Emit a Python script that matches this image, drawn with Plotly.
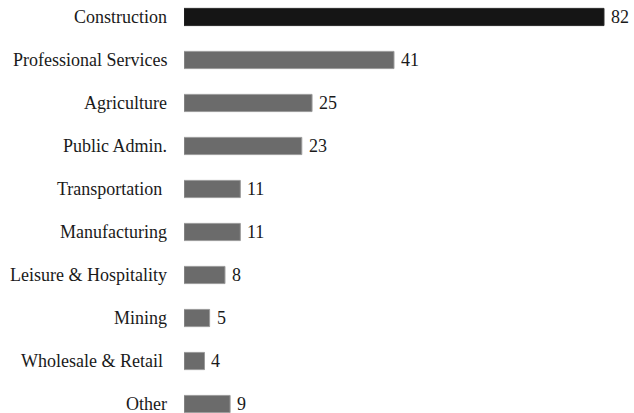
import plotly.graph_objects as go

# Counts by industry sector
sectors = ["Construction", "Professional Services", "Agriculture", "Public Admin.",
           "Transportation ", "Manufacturing", "Leisure & Hospitality", "Mining",
           "Wholesale & Retail ", "Other"]
counts = [82, 41, 25, 23, 11, 11, 8, 5, 4, 9]

SERIF = "Times New Roman, Liberation Serif, Tinos, serif"
TEXT_COLOR = "#1a1a1a"

bar_colors = ["#151515"] + ["#6b6b6b"] * (len(sectors) - 1)
edge_colors = ["#2a2a2a"] + ["#9a9a9a"] * (len(sectors) - 1)
positions = list(range(len(sectors)))

fig = go.Figure(
    go.Bar(
        x=counts,
        y=positions,
        orientation="h",
        width=0.4,
        marker=dict(color=bar_colors, line=dict(color=edge_colors, width=1)),
        hoverinfo="x+text",
        hovertext=sectors,
    )
)

# Sector names to the left of the bars
for pos, name in zip(positions, sectors):
    fig.add_annotation(
        x=0, y=pos, xref="x", yref="y",
        text=name.replace(" ", "&nbsp;") if name.endswith(" ") else name,
        showarrow=False, xanchor="right", yanchor="middle", xshift=-15,
        font=dict(family=SERIF, size=18, color=TEXT_COLOR),
    )

# Value labels just past the end of each bar
for pos, val in zip(positions, counts):
    fig.add_annotation(
        x=val, y=pos, xref="x", yref="y",
        text=str(val),
        showarrow=False, xanchor="left", yanchor="middle", xshift=5,
        font=dict(family=SERIF, size=18, color=TEXT_COLOR),
    )

fig.update_layout(
    width=634,
    height=413,
    margin=dict(l=184, r=0, t=0, b=0),
    paper_bgcolor="white",
    plot_bgcolor="white",
    showlegend=False,
    font=dict(family=SERIF, size=18, color=TEXT_COLOR),
    xaxis=dict(range=[0, 87.86], visible=False, fixedrange=True),
    yaxis=dict(range=[9.209, -0.395], visible=False, fixedrange=True),
)

fig.write_html("out.html")
